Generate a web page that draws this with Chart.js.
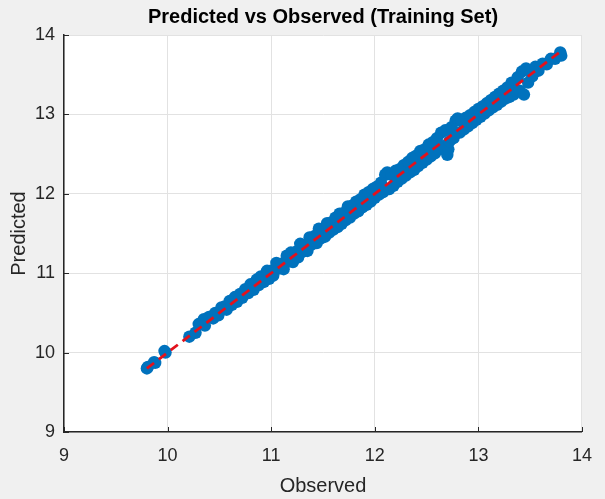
<!DOCTYPE html>
<html>
<head>
<meta charset="utf-8">
<script src="https://cdn.jsdelivr.net/npm/chart.js@4.4.1/dist/chart.umd.min.js"></script>
<style>
  html, body { margin: 0; padding: 0; background: #f0f0f0; }
  #wrap { width: 605px; height: 499px; }
</style>
</head>
<body>
<div id="wrap"><canvas id="c" width="605" height="499"></canvas></div>
<script>
// Training-set observations and model predictions
const observed = [
  9.80, 9.81, 9.87, 9.88, 9.97, 9.98, 10.21, 10.27, 10.30, 10.35,
  10.36, 10.40, 10.44, 10.46, 10.49, 10.52, 10.55, 10.57, 10.60, 10.62,
  10.65, 10.67, 10.70, 10.72, 10.75, 10.78, 10.80, 10.83, 10.86, 10.88,
  10.90, 10.93, 10.96, 10.98, 11.00, 11.02, 11.05, 11.08, 11.10, 11.12,
  11.15, 11.17, 11.19, 11.21, 11.24, 11.26, 11.28, 11.30, 11.33, 11.35,
  11.37, 11.39, 11.42, 11.44, 11.46, 11.48, 11.50, 11.52, 11.54, 11.56,
  11.58, 11.60, 11.62, 11.64, 11.66, 11.68, 11.70, 11.72, 11.74, 11.76,
  11.78, 11.80, 11.82, 11.84, 11.86, 11.88, 11.90, 11.92, 11.94, 11.96,
  11.98, 12.00, 12.02, 12.04, 12.06, 12.08, 12.10, 12.12, 12.14, 12.16,
  12.18, 12.20, 12.22, 12.24, 12.26, 12.28, 12.30, 12.32, 12.34, 12.36,
  12.38, 12.40, 12.42, 12.44, 12.46, 12.48, 12.50, 12.52, 12.54, 12.56,
  12.58, 12.60, 12.62, 12.64, 12.66, 12.68, 12.70, 12.71, 12.72, 12.74,
  12.76, 12.78, 12.80, 12.82, 12.84, 12.86, 12.88, 12.90, 12.92, 12.94,
  12.96, 12.98, 13.00, 13.02, 13.04, 13.06, 13.08, 13.10, 13.12, 13.14,
  13.16, 13.18, 13.20, 13.22, 13.24, 13.26, 13.28, 13.30, 13.32, 13.34,
  13.36, 13.38, 13.40, 13.42, 13.44, 13.46, 13.48, 13.50, 13.52, 13.55,
  13.58, 13.62, 13.66, 13.70, 13.74, 13.79, 13.80
];
const predicted = [
  9.80, 9.82, 9.88, 9.87, 10.02, 10.00, 10.20, 10.25, 10.36, 10.42,
  10.34, 10.45, 10.43, 10.50, 10.47, 10.57, 10.58, 10.54, 10.65, 10.60,
  10.70, 10.64, 10.74, 10.69, 10.80, 10.75, 10.86, 10.79, 10.92, 10.85,
  10.96, 10.89, 11.03, 10.93, 11.03, 10.97, 11.13, 11.06, 11.12, 11.05,
  11.22, 11.15, 11.26, 11.14, 11.27, 11.20, 11.37, 11.27, 11.36, 11.28,
  11.45, 11.36, 11.47, 11.38, 11.56, 11.44, 11.53, 11.46, 11.63, 11.51,
  11.64, 11.55, 11.70, 11.58, 11.75, 11.62, 11.76, 11.67, 11.84, 11.70,
  11.85, 11.75, 11.90, 11.78, 11.93, 11.83, 11.99, 11.86, 12.02, 11.90,
  12.06, 11.95, 12.09, 11.99, 12.14, 12.02, 12.24, 12.27, 12.06, 12.24,
  12.10, 12.29, 12.15, 12.31, 12.19, 12.36, 12.23, 12.40, 12.27, 12.45,
  12.30, 12.48, 12.35, 12.54, 12.39, 12.56, 12.43, 12.62, 12.47, 12.65,
  12.51, 12.70, 12.56, 12.77, 12.60, 12.80, 12.49, 12.56, 12.66, 12.84,
  12.70, 12.92, 12.95, 12.77, 12.92, 12.81, 12.96, 12.85, 12.99, 12.89,
  13.03, 12.93, 13.07, 12.97, 13.10, 13.01, 13.14, 13.05, 13.18, 13.09,
  13.22, 13.12, 13.26, 13.16, 13.30, 13.20, 13.34, 13.22, 13.40, 13.25,
  13.30, 13.47, 13.30, 13.54, 13.25, 13.58, 13.40, 13.55, 13.48, 13.60,
  13.55, 13.64, 13.63, 13.70, 13.70, 13.78, 13.74
];
// Reference line y = x across the observed range
const refLine = [9.8, 13.8];
const axisTicks = [9, 10, 11, 12, 13, 14];

const points = observed.map((v, i) => ({ x: v, y: predicted[i] }));
const linePts = refLine.map(v => ({ x: v, y: v }));

const FONT = "'Liberation Sans', Arial, sans-serif";
const INK = '#262626';

// Grey figure background with a white plotting box
const backdrop = {
  id: 'backdrop',
  beforeDraw(chart) {
    const { ctx, chartArea: a } = chart;
    ctx.save();
    ctx.fillStyle = '#f0f0f0';
    ctx.fillRect(0, 0, chart.width, chart.height);
    ctx.fillStyle = '#ffffff';
    ctx.fillRect(a.left, a.top, a.right - a.left, a.bottom - a.top);
    ctx.restore();
  }
};

// Short tick marks pointing into the plotting box
const innerTicks = {
  id: 'innerTicks',
  afterDraw(chart) {
    const { ctx, chartArea: a, scales } = chart;
    ctx.save();
    ctx.strokeStyle = INK;
    ctx.lineWidth = 1;
    axisTicks.forEach(t => {
      const px = Math.round(scales.x.getPixelForValue(t)) + 0.5;
      ctx.beginPath();
      ctx.moveTo(px, a.bottom);
      ctx.lineTo(px, a.bottom - 5);
      ctx.stroke();
      const py = Math.round(scales.y.getPixelForValue(t)) + 0.5;
      ctx.beginPath();
      ctx.moveTo(a.left, py);
      ctx.lineTo(a.left + 5, py);
      ctx.stroke();
    });
    ctx.restore();
  }
};

new Chart(document.getElementById('c'), {
  type: 'scatter',
  data: {
    datasets: [
      {
        type: 'line',
        data: linePts,
        borderColor: '#e3121c',
        borderWidth: 2.8,
        borderDash: [9, 6],
        pointRadius: 0,
        fill: false,
        order: 0
      },
      {
        data: points,
        backgroundColor: '#0072bd',
        borderWidth: 0,
        pointRadius: 6.2,
        pointHoverRadius: 6.2,
        order: 1
      }
    ]
  },
  plugins: [backdrop, innerTicks],
  options: {
    responsive: false,
    animation: false,
    layout: { padding: { left: 0, right: 23, top: 0, bottom: 0 } },
    plugins: {
      legend: { display: false },
      tooltip: { enabled: false },
      title: {
        display: true,
        fullSize: false,
        text: 'Predicted vs Observed (Training Set)',
        color: '#000000',
        font: { family: FONT, size: 20, weight: 'bold' },
        padding: { top: 5, bottom: 6 }
      }
    },
    scales: {
      x: {
        type: 'linear',
        min: 9, max: 14,
        afterFit(s) { s.height = 67; },
        afterBuildTicks(s) { s.ticks = axisTicks.map(v => ({ value: v })); },
        ticks: { color: INK, font: { family: FONT, size: 18 }, padding: 13 },
        grid: { color: '#e2e2e2', lineWidth: 1, drawTicks: false },
        border: { display: true, color: INK, width: 1.5 },
        title: {
          display: true, text: 'Observed', color: INK,
          font: { family: FONT, size: 20 }, padding: 1
        }
      },
      y: {
        type: 'linear',
        min: 9, max: 14,
        afterFit(s) { s.width = 64; },
        afterBuildTicks(s) { s.ticks = axisTicks.map(v => ({ value: v })); },
        ticks: { color: INK, font: { family: FONT, size: 18 }, padding: 9 },
        grid: { color: '#e2e2e2', lineWidth: 1, drawTicks: false },
        border: { display: true, color: INK, width: 1.5 },
        title: {
          display: true, text: 'Predicted', color: INK,
          font: { family: FONT, size: 20 }, padding: 7
        }
      }
    }
  }
});
</script>
</body>
</html>
